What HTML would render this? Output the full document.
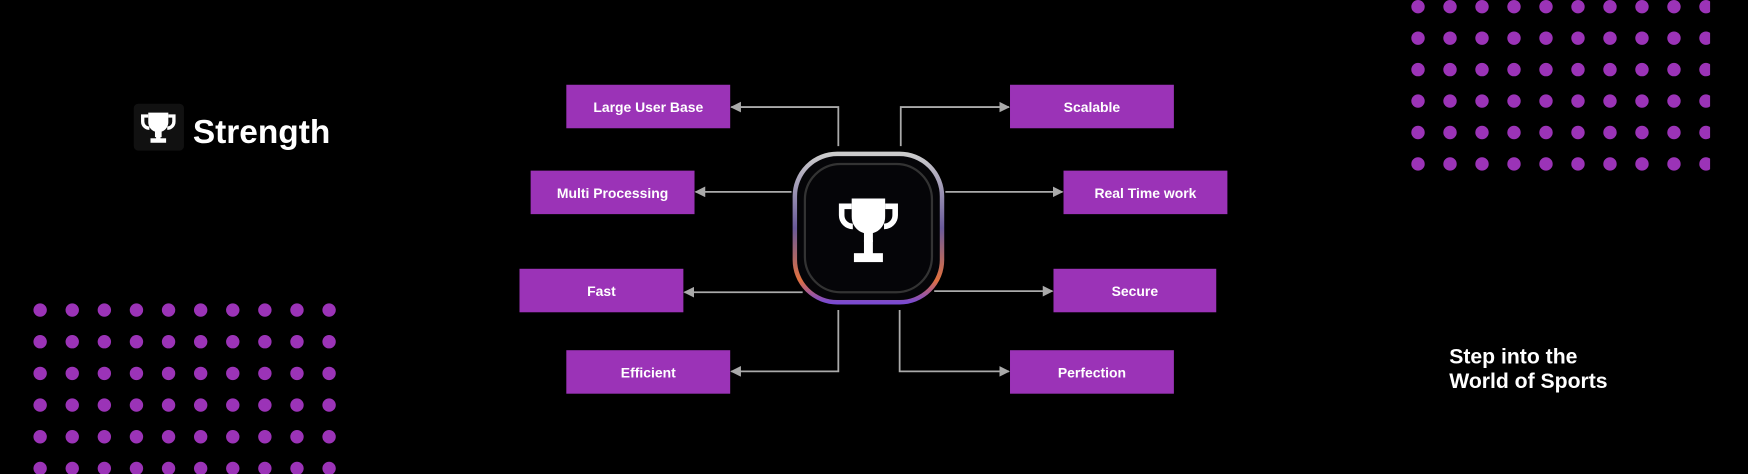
<!DOCTYPE html>
<html><head><meta charset="utf-8"><style>
html,body{margin:0;padding:0;background:#000;width:1748px;height:474px;overflow:hidden}
svg{display:block}
text{font-family:"Liberation Sans",sans-serif}
</style></head><body>
<svg width="1748" height="474" viewBox="0 0 1568 425" preserveAspectRatio="none">
<defs>
<marker id="ar" viewBox="0 0 10 10" refX="9" refY="5" markerWidth="6" markerHeight="6" orient="auto-start-reverse"><path d="M0,0 L10,5 L0,10 z" fill="#aaa"/></marker>
<clipPath id="rc"><rect x="1250" y="0" width="284" height="170"/></clipPath>
<linearGradient id="rim" x1="0" y1="0" x2="0" y2="1"><stop offset="0" stop-color="#ccc"/><stop offset="0.5" stop-color="#6a5a9a"/><stop offset="0.85" stop-color="#e07040"/><stop offset="1" stop-color="#7a4ad0"/></linearGradient>
</defs>
<rect width="1568" height="425" fill="#000"/>
<g id="leftdots"></g>
<g id="rightdots" clip-path="url(#rc)"></g>

<g>
<rect x="120" y="93" width="45" height="42" rx="4" fill="#111"/>
<g fill="#fff" transform="translate(142,114)">
<path d="M-9,-13 h18 v8 a9,9 0 0 1 -6,9 v5 h-6 v-5 a9,9 0 0 1 -6,-9z"/>
<path d="M-9,-10 h-5 v5 a6,6 0 0 0 6,6" fill="none" stroke="#fff" stroke-width="3"/>
<path d="M9,-10 h5 v5 a6,6 0 0 1 -6,6" fill="none" stroke="#fff" stroke-width="3"/>
<rect x="-2" y="3" width="4" height="8"/><rect x="-7" y="10" width="14" height="4"/>
</g>
<text x="173" y="128" font-size="30" font-weight="bold" fill="#fff">Strength</text>
</g>

<g stroke="#aaa" stroke-width="1.6" fill="none">
<polyline points="752,131 752,96 656,96" marker-end="url(#ar)"/>
<polyline points="808,131 808,96 905,96" marker-end="url(#ar)"/>
<polyline points="710,172 624,172" marker-end="url(#ar)"/>
<polyline points="848,172 953,172" marker-end="url(#ar)"/>
<polyline points="720,262 614,262" marker-end="url(#ar)"/>
<polyline points="838,261 944,261" marker-end="url(#ar)"/>
<polyline points="752,278 752,333 656,333" marker-end="url(#ar)"/>
<polyline points="807,278 807,333 905,333" marker-end="url(#ar)"/>
</g>

<g>
<rect x="713" y="138" width="132" height="133" rx="38" fill="#050508" stroke="url(#rim)" stroke-width="4"/>
<rect x="722" y="147" width="114" height="115" rx="32" fill="none" stroke="#333" stroke-width="2"/>
<g fill="#fff" transform="translate(779,200)">
<path d="M-15,-22 h30 v16 a15,15 0 0 1 -11,15 v8 h-8 v-8 a15,15 0 0 1 -11,-15z"/>
<path d="M-15,-15 h-9 v8 a10,10 0 0 0 10,10" fill="none" stroke="#fff" stroke-width="5"/>
<path d="M15,-15 h9 v8 a10,10 0 0 1 -10,10" fill="none" stroke="#fff" stroke-width="5"/>
<rect x="-4" y="15" width="8" height="14"/><rect x="-13" y="27" width="26" height="8"/>
</g>
</g>

<g font-size="12.5" font-weight="bold" fill="#fff" text-anchor="middle">
<g><rect x="508" y="76" width="147" height="39" fill="#9b33b7"/><text x="581.5" y="100.5">Large User Base</text></g>
<g><rect x="906" y="76" width="147" height="39" fill="#9b33b7"/><text x="979.5" y="100.5">Scalable</text></g>
<g><rect x="476" y="153" width="147" height="39" fill="#9b33b7"/><text x="549.5" y="177.5">Multi Processing</text></g>
<g><rect x="954" y="153" width="147" height="39" fill="#9b33b7"/><text x="1027.5" y="177.5">Real Time work</text></g>
<g><rect x="466" y="241" width="147" height="39" fill="#9b33b7"/><text x="539.5" y="265.5">Fast</text></g>
<g><rect x="945" y="241" width="146" height="39" fill="#9b33b7"/><text x="1018" y="265.5">Secure</text></g>
<g><rect x="508" y="314" width="147" height="39" fill="#9b33b7"/><text x="581.5" y="338.5">Efficient</text></g>
<g><rect x="906" y="314" width="147" height="39" fill="#9b33b7"/><text x="979.5" y="338.5">Perfection</text></g>
</g>

<g font-size="19" font-weight="bold" fill="#fff">
<text x="1300" y="326">Step into the</text>
<text x="1300" y="348">World of Sports</text>
</g>
</svg>
<script>
const NS='http://www.w3.org/2000/svg';
const L=document.getElementById('leftdots'), R=document.getElementById('rightdots');
for(let r=0;r<6;r++)for(let c=0;c<10;c++){
  const d=document.createElementNS(NS,'circle');
  d.setAttribute('cx',36+c*28.8);d.setAttribute('cy',278+r*28.4);d.setAttribute('r',6);d.setAttribute('fill','#9b33b7');
  
  
  L.appendChild(d);
  const e=document.createElementNS(NS,'circle');
  e.setAttribute('cx',1272+c*28.7);e.setAttribute('cy',6+r*28.2);e.setAttribute('r',6);e.setAttribute('fill','#9b33b7');
  
  
  R.appendChild(e);
}
</script>
</body></html>
